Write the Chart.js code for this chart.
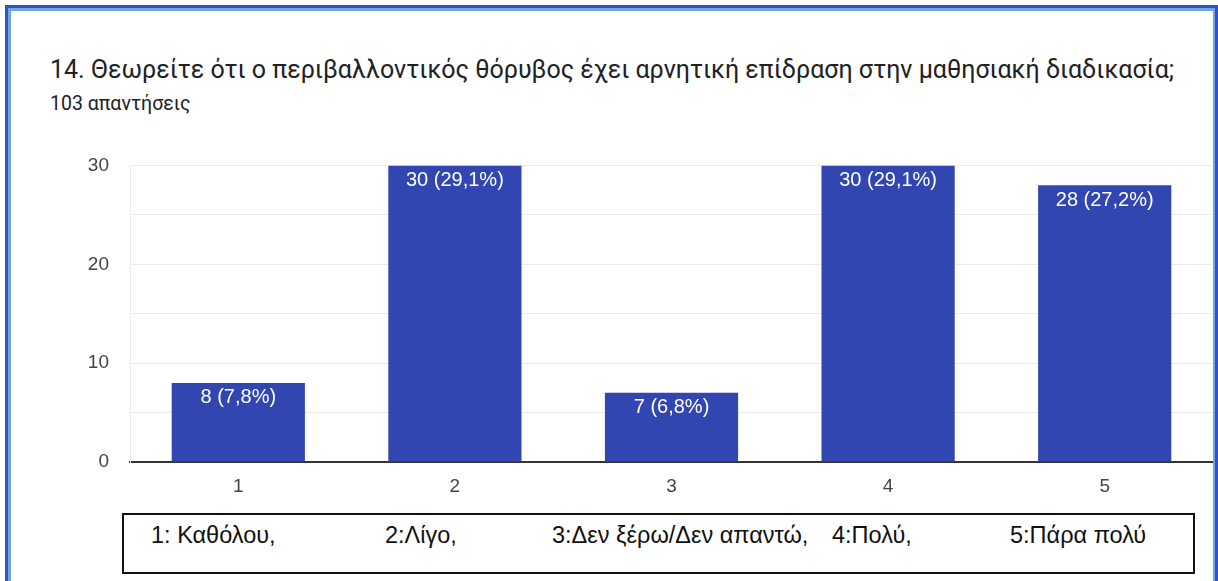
<!DOCTYPE html>
<html>
<head>
<meta charset="utf-8">
<script src="https://cdn.jsdelivr.net/npm/chart.js@4/dist/chart.umd.min.js"></script>
<style>
  html, body { margin: 0; padding: 0; background: #fff; }
  body { width: 1218px; height: 581px; position: relative; overflow: hidden; }
  .frame-outer { position: absolute; left: 5px; top: 5px; width: 1213px; height: 600px;
    border-left: 3px solid #3352c4; border-top: 3px solid #3352c4; box-sizing: border-box; }
  .frame-inner { position: absolute; left: 8px; top: 8px; width: 1210px; height: 600px;
    border-left: 3px solid #6ea6e6; border-top: 3px solid #6ea6e6; box-sizing: border-box; }
  .frame-right-light { position: absolute; left: 1213px; top: 8px; width: 2px; height: 600px; background: #6ea6e6; }
  .frame-right-dark { position: absolute; left: 1215px; top: 5px; width: 3px; height: 600px; background: #3352c4; }
  .title { position: absolute; left: 50px; top: 55px; font-family: Roboto, "Noto Sans", sans-serif;
    font-size: 25px; color: #202124; white-space: nowrap; }
  .subtitle { position: absolute; left: 50px; top: 92px; font-family: Roboto, "Noto Sans", sans-serif;
    font-size: 19.5px; color: #202124; white-space: nowrap; }
  #wrap { position: absolute; left: 0; top: 133px; width: 1213px; height: 367px; }
  .keybox { position: absolute; left: 122px; top: 513px; width: 1073px; height: 61px;
    border: 2px solid #111; box-sizing: border-box; }
  .key { position: absolute; top: 522px; font-family: "Liberation Sans", Arial, sans-serif;
    font-size: 23.5px; color: #111; white-space: nowrap; }
</style>
</head>
<body>
<div class="frame-outer"></div>
<div class="frame-inner"></div>
<div class="frame-right-light"></div>
<div class="frame-right-dark"></div>
<div class="title">14. Θεωρείτε ότι ο περιβαλλοντικός θόρυβος έχει αρνητική επίδραση στην μαθησιακή διαδικασία;</div>
<div class="subtitle">103 απαντήσεις</div>
<div id="wrap"><canvas id="chart"></canvas></div>
<div class="keybox"></div>
<div id="keys"></div>
<script>
// Answer scale and response counts
const categories = ['1', '2', '3', '4', '5'];
const counts = [8, 30, 7, 30, 28];
const totalResponses = 103;
const yTicks = [0, 10, 20, 30];
const keyLabels = ['1: Καθόλου,', '2:Λίγο,', '3:Δεν ξέρω/Δεν απαντώ,', '4:Πολύ,', '5:Πάρα πολύ'];
const keyX = [151, 385, 552, 832, 1010];

// Text key under the chart
const keys = document.getElementById('keys');
keyLabels.forEach((t, i) => {
  const s = document.createElement('div');
  s.className = 'key';
  s.style.left = keyX[i] + 'px';
  s.textContent = t;
  keys.appendChild(s);
});

const fmtPct = v => (Math.round(v / totalResponses * 1000) / 10).toFixed(1).replace('.', ',') + '%';

// Value labels inside the top of each bar
const barLabels = {
  id: 'barLabels',
  afterDatasetsDraw(chart) {
    const ctx = chart.ctx;
    const meta = chart.getDatasetMeta(0);
    ctx.save();
    ctx.fillStyle = '#ffffff';
    ctx.font = '20px "Liberation Sans", Arial, sans-serif';
    ctx.textAlign = 'center';
    ctx.textBaseline = 'middle';
    meta.data.forEach((bar, i) => {
      const v = chart.data.datasets[0].data[i];
      ctx.fillText(v + ' (' + fmtPct(v) + ')', bar.x, bar.y + 15);
    });
    ctx.restore();
  }
};

new Chart(document.getElementById('chart'), {
  type: 'bar',
  data: {
    labels: categories,
    datasets: [{
      data: counts,
      backgroundColor: '#3246b2',
      borderWidth: 0,
      categoryPercentage: 1,
      barPercentage: 0.615
    }]
  },
  options: {
    responsive: true,
    maintainAspectRatio: false,
    animation: false,
    layout: { padding: { left: 0, right: 0, top: 20, bottom: 0 } },
    plugins: { legend: { display: false }, tooltip: { enabled: false }, title: { display: false } },
    scales: {
      x: {
        grid: { display: false, drawTicks: false },
        border: { display: true, color: '#333333', width: 2 },
        ticks: { color: '#444444', padding: 13, font: { family: '"Liberation Sans", Arial, sans-serif', size: 19 } },
        afterFit(scale) { scale.height = 38; }
      },
      y: {
        min: 0,
        max: 30,
        grid: { color: '#ebebeb', lineWidth: 1, drawTicks: false },
        border: { display: true, color: '#ebebeb', width: 1 },
        ticks: {
          stepSize: 5,
          color: '#444444',
          padding: 21,
          font: { family: '"Liberation Sans", Arial, sans-serif', size: 19 },
          callback: v => yTicks.includes(v) ? String(v) : ''
        },
        afterFit(scale) { scale.width = 130; }
      }
    }
  },
  plugins: [barLabels]
});
</script>
</body>
</html>
